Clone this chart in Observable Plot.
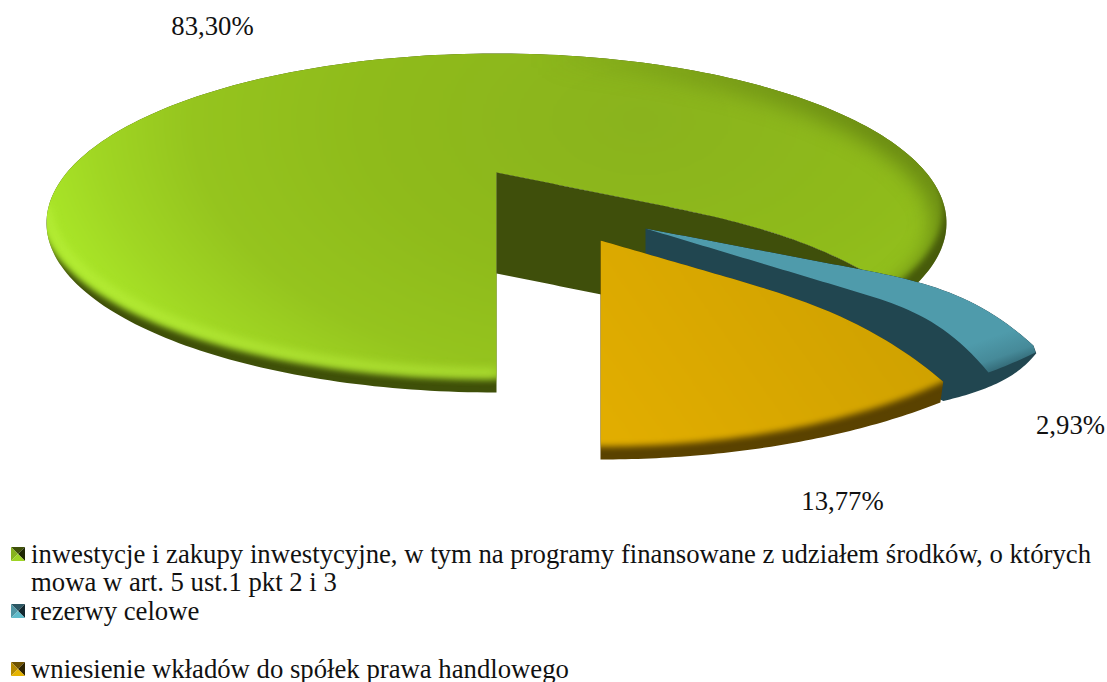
<!DOCTYPE html>
<html lang="pl">
<head>
<meta charset="utf-8">
<script src="https://cdn.jsdelivr.net/npm/d3@7"></script>
<script src="https://cdn.jsdelivr.net/npm/@observablehq/plot@0.6"></script>
<style>
html,body{margin:0;padding:0;background:#fff;overflow:hidden;width:1107px;height:682px}
svg{display:block}
#legend{position:absolute;left:0;top:540px;width:1107px;font-family:"Liberation Serif",serif;font-size:26.72px;color:#111;line-height:28.4px}
.item{position:relative;padding-left:31px;padding-right:8px}
.item svg{position:absolute;left:11px;top:7px}
.gap{height:29.6px}
</style>
</head>
<body>
<div id="chart"></div>
<div id="legend"></div>
<script>
const categories = [
  "inwestycje i zakupy inwestycyjne, w tym na programy finansowane z udziałem środków, o których mowa w art. 5 ust.1 pkt 2 i 3",
  "rezerwy celowe",
  "wniesienie wkładów do spółek prawa handlowego"
];
const shares = [83.30, 2.93, 13.77];
const shareLabels = shares.map(v => v.toFixed(2).replace(".", ",") + "%");

const W = 1107, H = 540;
const rad = d => d * Math.PI / 180;
const deg = shares.map(v => v * 3.6);
const [greenDeg, tealDeg, yellowDeg] = deg;
const yellowEnd = yellowDeg, tealEnd = yellowDeg + tealDeg;

const rimPt = (c, rx, ry, a) => ({x: c.x + rx * Math.sin(rad(a)), y: c.y + ry * Math.cos(rad(a))});
const arc = (c, rx, ry, a0, a1, n = 90, bulge = 0) => d3.range(n + 1).map(i => {
  const t = i / n, f = 1 + bulge * Math.sin(Math.PI * t);
  return rimPt(c, rx * f, ry * f, a0 + (a1 - a0) * t);
});
// radial slice edge: leaves the apex on a straight slope, then curls into the rim corner
const edge = (p, q, slope, hinge, to = 1, n = 60) => {
  const span = q.x - p.x;
  const curl = (q.y - p.y - slope * span) / (span - hinge) ** 3;
  return d3.range(n + 1).map(i => {
    const dx = span * to * i / n;
    return {x: p.x + dx, y: p.y + slope * dx + curl * Math.max(0, dx - hinge) ** 3};
  });
};
const shift = (pts, dx, dy) => pts.map(p => ({x: p.x + dx, y: p.y + dy}));

// green slice
const gApex = {x: 496, y: 172}, gC = {x: 496, y: 222.5}, gEnd = {x: 917, y: 305};
const gA = phi => 69 + (phi - tealEnd) * (291 / greenDeg);
const gEdge = edge(gApex, gEnd, 0.2, 150);
const gOutline = [...arc(gC, 450, 169.5, gA(tealEnd), gA(360), 240), gApex, ...gEdge];
const gSurface = arc({x: 491, y: 209}, 452, 169.5, 0, 360, 240);
const gHighlight = arc({x: 493, y: 203}, 447, 169.5, 272, 360, 80);
const gShade = arc(gC, 450, 169.5, 62, 178, 90);
const gWallTop = edge(gApex, gEnd, 0.2, 150, 0.9);
const gWall = [...gWallTop, ...shift(gWallTop, 0, 101).reverse()];

// teal slice
const tApex = {x: 645, y: 228};
const tA = phi => 43.2 + (phi - yellowEnd) * 0.75;
const tRim = a => rimPt(tApex, 501, 197.6, a);
const tCorner1 = tRim(tA(tealEnd)), tCorner2 = tRim(tA(yellowEnd));
const tShoulder = {x: tCorner1.x - 2, y: tCorner1.y - 7};
const tFoot = {x: 645, y: 254};
const tUpper = edge(tApex, tShoulder, 0.19, 210);
const tOutline = [...tUpper, ...arc(tFoot, 454, 194.2, 59.4, 41, 40, 0.02), tFoot];
const tSurface = [...tUpper, tCorner1, ...arc(tApex, 501, 197.6, tA(tealEnd), tA(yellowEnd), 12), ...edge(tApex, tCorner2, 0.30, 210).reverse()];

// yellow slice
const yApex = {x: 600, y: 240};
const yK = 46.7 / yellowDeg;
const yCorner = rimPt(yApex, 471, 206, yellowEnd * yK);
const yEdge = edge(yApex, yCorner, 0.29, 120);
const yOutline = [...yEdge, ...arc(yApex, 505, 219, 42.3, 0, 60)];
const ySurface = [{x: 585, y: 446}, {x: 585, y: 225}, ...shift(yEdge, 0, -10), {x: yCorner.x + 8, y: yCorner.y - 8}, ...arc(yApex, 471, 206, yellowEnd * yK, 0, 60)];

const labelAnchors = [
  {x: 212, y: 26, t: shareLabels[0]},
  {x: 1070, y: 425, t: shareLabels[1]},
  {x: 842, y: 501, t: shareLabels[2]}
];

const poly = (pts, fill, extra = {}) => Plot.line(pts, {x: "x", y: "y", fill, stroke: "none", ...extra});

const svg = Plot.plot({
  width: W, height: H, margin: 0,
  x: {domain: [0, W], range: [0, W], axis: null},
  y: {domain: [0, H], range: [0, H], axis: null},
  marks: [
    poly(gOutline, "#3f5009", {className: "g-out"}),
    poly(gSurface, "url(#gGrad)", {className: "g-in", imageFilter: "blur(3px)"}),
    Plot.line(gHighlight, {x: "x", y: "y", stroke: "#bdf142", strokeWidth: 7, strokeOpacity: 0.7, className: "g-in", imageFilter: "blur(5px)"}),
    Plot.line(gShade, {x: "x", y: "y", stroke: "url(#gShadeGrad)", strokeWidth: 26, className: "g-in", imageFilter: "blur(11px)"}),
    poly(gWall, "#3f4f0b"),
    poly(tOutline, "#214650", {className: "t-out"}),
    poly(tSurface, "url(#tGrad)", {className: "t-in"}),
    poly(yOutline, "#5a4200", {className: "y-out"}),
    poly(ySurface, "url(#yGrad)", {className: "y-in", imageFilter: "blur(3px)"}),
    Plot.text(labelAnchors, {x: "x", y: "y", text: "t", fontSize: 26.72, fontFamily: "Liberation Serif", fill: "#111", textAnchor: "middle", lineAnchor: "middle"})
  ]
});

const root = d3.select(svg);
root.append("defs").html(`
  <radialGradient id="gGrad" gradientUnits="userSpaceOnUse" cx="0" cy="0" r="620" gradientTransform="translate(640 120) scale(1 0.588)">
    <stop offset="0" stop-color="#8ab31d"/>
    <stop offset="0.45" stop-color="#8fbb1b"/>
    <stop offset="0.72" stop-color="#95c41e"/>
    <stop offset="0.88" stop-color="#a0d623"/>
    <stop offset="1" stop-color="#aae728"/>
  </radialGradient>
  <linearGradient id="gShadeGrad" gradientUnits="userSpaceOnUse" x1="540" y1="0" x2="880" y2="0">
    <stop offset="0" stop-color="#4f670c" stop-opacity="0"/>
    <stop offset="1" stop-color="#4f670c" stop-opacity="0.65"/>
  </linearGradient>
  <linearGradient id="tGrad" gradientUnits="userSpaceOnUse" x1="995" y1="335" x2="1008" y2="372">
    <stop offset="0" stop-color="#4f9bab"/>
    <stop offset="0.55" stop-color="#468a99"/>
    <stop offset="1" stop-color="#2a5a66"/>
  </linearGradient>
  <linearGradient id="yGrad" gradientUnits="userSpaceOnUse" x1="620" y1="440" x2="860" y2="270">
    <stop offset="0" stop-color="#e1ad00"/>
    <stop offset="1" stop-color="#d0a200"/>
  </linearGradient>`);
for (const k of ["g", "t", "y"]) {
  const d = root.select(`.${k}-out path`).attr("d");
  root.select("defs").append("clipPath").attr("id", `${k}Clip`).append("path").attr("d", d);
  root.selectAll(`.${k}-in`).attr("clip-path", `url(#${k}Clip)`);
}
document.getElementById("chart").append(svg);

const swatchColors = [
  ["#3f5009", "#86b21d", "#1f2804", "#9ed424"],
  ["#2c5763", "#4f96a4", "#12272e", "#60bccb"],
  ["#6e5200", "#b58a00", "#2e2300", "#e6b400"]
];
const legend = d3.select("#legend");
categories.forEach((c, i) => {
  const item = legend.append("div").attr("class", "item");
  const [t, l, r, b] = swatchColors[i];
  item.append("svg").attr("width", 14).attr("height", 14).html(
    `<polygon points="0,0 14,0 7,7" fill="${t}"/><polygon points="0,0 7,7 0,14" fill="${l}"/><polygon points="14,0 14,14 7,7" fill="${r}"/><polygon points="0,14 14,14 7,7" fill="${b}"/>`);
  item.append("span").text(c);
  if (i === 1) legend.append("div").attr("class", "gap");
});
</script>
</body>
</html>
